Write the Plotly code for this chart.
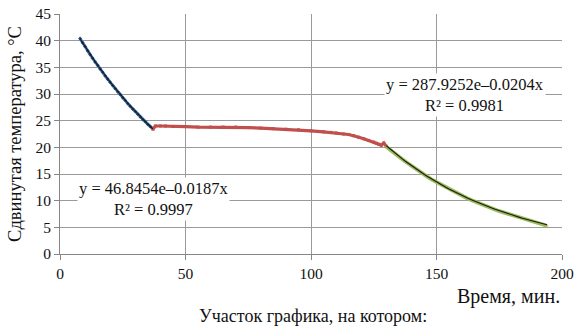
import numpy as np
import plotly.graph_objects as go

# Section 1 (blue): cooling before crystallisation
x1 = [8, 9, 10, 11, 12, 13, 14, 15, 16, 17, 18, 19, 20, 21, 22, 23, 24, 25, 26, 27, 28, 29, 30, 31, 32, 33, 34, 35, 36, 37]
y1 = [40.4, 39.6, 38.9, 38.1, 37.4, 36.7, 36.0, 35.4, 34.7, 34.1, 33.4, 32.8, 32.2, 31.6, 31.0, 30.4, 29.9, 29.3, 28.8, 28.2, 27.7, 27.2, 26.7, 26.2, 25.7, 25.2, 24.8, 24.3, 23.9, 23.5]

# Section 2 (red): plateau
x2 = [37, 38, 40, 42, 45, 48, 50, 55, 60, 65, 70, 75, 80, 85, 90, 95, 100, 105, 108, 110, 113, 115, 117, 119, 121, 123, 125, 126, 127, 128, 129, 130]
y2 = [23.4, 24.0, 24.0, 24.0, 23.9, 23.9, 23.9, 23.8, 23.8, 23.8, 23.8, 23.7, 23.6, 23.5, 23.4, 23.3, 23.1, 22.9, 22.8, 22.7, 22.5, 22.4, 22.2, 21.9, 21.6, 21.3, 21.0, 20.8, 20.6, 20.4, 20.8, 20.2]

# Section 3 (green): cooling after crystallisation
x3 = [130, 132, 134, 136, 138, 140, 142, 144, 146, 148, 150, 152, 154, 156, 158, 160, 162, 164, 166, 168, 170, 172, 174, 176, 178, 180, 182, 184, 186, 188, 190, 192, 194]
y3 = [20.1, 19.3, 18.6, 17.9, 17.2, 16.5, 15.9, 15.2, 14.6, 14.0, 13.5, 12.9, 12.4, 11.9, 11.4, 11.0, 10.5, 10.1, 9.7, 9.3, 8.9, 8.6, 8.2, 7.9, 7.6, 7.3, 7.0, 6.7, 6.4, 6.1, 5.9, 5.6, 5.3]

# Exponential trendline coefficients (a, b) for y = a*exp(b*x)
trend1 = [46.8454, -0.0187]
trend3 = [287.9252, -0.0204]

eq1 = "y = 46.8454e\u20130.0187x<br>R² = 0.9997"
eq3 = "y = 287.9252e\u20130.0204x<br>R² = 0.9981"

FONT = "Liberation Serif, Times New Roman, serif"

fig = go.Figure()
fig.add_trace(go.Scatter(x=x1, y=y1, mode="lines+markers",
                         line=dict(color="#4F81BD", width=3),
                         marker=dict(symbol="diamond", size=3, color="#1F497D")))
fig.add_trace(go.Scatter(x=x2, y=y2, mode="lines+markers",
                         line=dict(color="#C0504D", width=3.2),
                         marker=dict(symbol="square", size=3, color="#C0504D")))
fig.add_trace(go.Scatter(x=x3, y=y3, mode="lines+markers",
                         line=dict(color="#9BBB59", width=3.8),
                         marker=dict(symbol="triangle-up", size=3, color="#9BBB59")))

tx1 = np.linspace(min(x1), max(x1), 60)
fig.add_trace(go.Scatter(x=tx1, y=trend1[0] * np.exp(trend1[1] * tx1), mode="lines",
                         line=dict(color="#1a1a1a", width=1.1)))
tx3 = np.linspace(min(x3), max(x3), 60)
fig.add_trace(go.Scatter(x=tx3, y=trend3[0] * np.exp(trend3[1] * tx3), mode="lines",
                         line=dict(color="#1a1a1a", width=1.1)))

fig.add_annotation(x=37.4, y=10.3, xref="x", yref="y", text=eq1, showarrow=False,
                   font=dict(family=FONT, size=16.5, color="#111"), bgcolor="white",
                   align="center", borderpad=1)
fig.add_annotation(x=161.4, y=29.8, xref="x", yref="y", text=eq3, showarrow=False,
                   font=dict(family=FONT, size=16.5, color="#111"), bgcolor="white",
                   align="center", borderpad=1)

fig.add_annotation(x=1, y=-0.178, xref="paper", yref="paper", xanchor="right", yanchor="middle",
                   text="Время, мин.", showarrow=False, font=dict(family=FONT, size=20, color="#111"))
fig.add_annotation(x=0.503, y=-0.258, xref="paper", yref="paper", xanchor="center", yanchor="middle",
                   text="Участок графика, на котором:", showarrow=False,
                   font=dict(family=FONT, size=18, color="#111"))

fig.update_layout(
    width=579, height=328,
    margin=dict(l=60, r=11, t=5, b=74),
    paper_bgcolor="white", plot_bgcolor="white",
    showlegend=False,
    font=dict(family=FONT, size=15, color="#111"),
    xaxis=dict(range=[0, 200], tickvals=[0, 50, 100, 150, 200], showgrid=True,
               gridcolor="#9a9a9a", gridwidth=1, showline=True, linecolor="#868686",
               ticks="outside", ticklen=5, tickcolor="#868686", zeroline=False,
               ticklabeloverflow="allow",
               tickfont=dict(family=FONT, size=15.5, color="#111"), mirror=False),
    yaxis=dict(range=[0, 45], tickvals=list(range(0, 50, 5)), showgrid=True,
               gridcolor="#9a9a9a", gridwidth=1, showline=True, linecolor="#868686",
               ticks="outside", ticklen=5, tickcolor="#868686", zeroline=False,
               ticklabeloverflow="allow",
               tickfont=dict(family=FONT, size=15.5, color="#111"),
               title=dict(text="Сдвинутая температура, °С", standoff=8,
                          font=dict(family=FONT, size=18.5, color="#111"))),
)

fig.write_html("out.html", config={"displayModeBar": False},
               post_script="document.body.style.margin='0';document.body.style.overflow='hidden';")
